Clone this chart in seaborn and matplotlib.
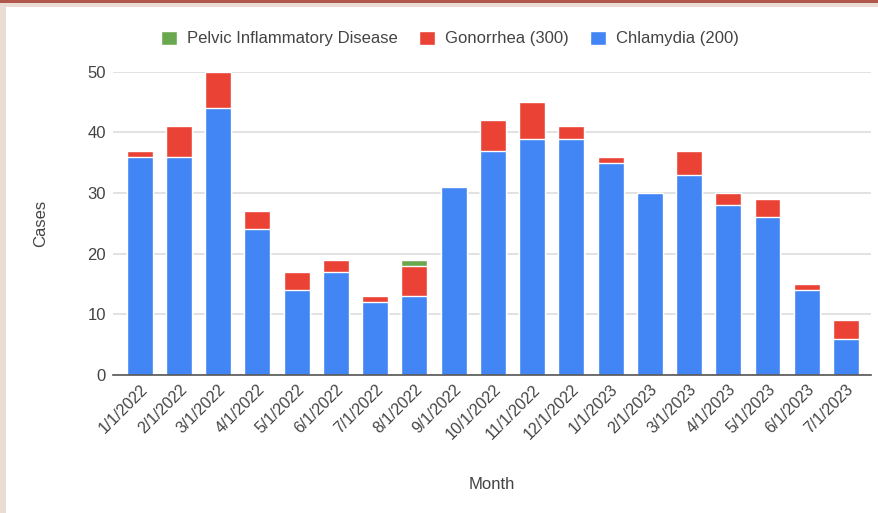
import matplotlib
matplotlib.use('Agg')
import matplotlib.pyplot as plt
from matplotlib.patches import Rectangle, Patch
import seaborn as sns
import numpy as np
import pandas as pd

months = ['1/1/2022', '2/1/2022', '3/1/2022', '4/1/2022', '5/1/2022', '6/1/2022',
          '7/1/2022', '8/1/2022', '9/1/2022', '10/1/2022', '11/1/2022', '12/1/2022',
          '1/1/2023', '2/1/2023', '3/1/2023', '4/1/2023', '5/1/2023', '6/1/2023',
          '7/1/2023']
chlamydia = [36, 36, 44, 24, 14, 17, 12, 13, 31, 37, 39, 39, 35, 30, 33, 28, 26, 14, 6]
gonorrhea = [1, 5, 6, 3, 3, 2, 1, 5, 0, 5, 6, 2, 1, 0, 4, 2, 3, 1, 3]
pid = [0, 0, 0, 0, 0, 0, 0, 1, 0, 0, 0, 0, 0, 0, 0, 0, 0, 0, 0]

blue = '#4285F4'
red = '#EA4335'
green = '#6AA84F'
text_col = '#444444'

df = pd.DataFrame({'Month': months, 'Chlamydia': chlamydia,
                   'Gonorrhea': gonorrhea, 'PID': pid})
df['top_gon'] = df['Chlamydia'] + df['Gonorrhea']
df['top_pid'] = df['top_gon'] + df['PID']

sns.set_style('white')
plt.rcParams['font.family'] = ['Liberation Sans', 'DejaVu Sans']

fig = plt.figure(figsize=(8.79, 5.13), dpi=100)
ax = fig.add_axes([0.1286, 0.269, 0.8624, 0.591])

# stacked bars: draw cumulative totals back to front
sns.barplot(data=df, x='Month', y='top_pid', color=green, saturation=1,
            width=0.66, ax=ax, zorder=3)
sns.barplot(data=df, x='Month', y='top_gon', color=red, saturation=1,
            width=0.66, ax=ax, zorder=3)
sns.barplot(data=df, x='Month', y='Chlamydia', color=blue, saturation=1,
            width=0.66, ax=ax, zorder=3)

ax.set_ylim(0, 50)
ax.set_xlim(-0.68, len(months) - 0.36)
ax.set_yticks([0, 10, 20, 30, 40, 50])
ax.yaxis.grid(True, color='#DDDDDD', linewidth=1.2, zorder=0)
ax.set_axisbelow(True)
for s in ['top', 'right', 'left']:
    ax.spines[s].set_visible(False)
ax.spines['bottom'].set_color('#555555')
ax.spines['bottom'].set_linewidth(1.2)
ax.spines['bottom'].set_zorder(4)

ax.tick_params(axis='y', length=0, labelsize=12, labelcolor=text_col, pad=5)
ax.tick_params(axis='x', length=0, labelsize=11.5, labelcolor=text_col, pad=5)
plt.setp(ax.get_xticklabels(), rotation=45, ha='right', rotation_mode='anchor')

ax.set_xlabel('Month', fontsize=12, color=text_col, labelpad=25)
ax.set_ylabel('Cases', fontsize=12, color=text_col, labelpad=28)

handles = [Patch(facecolor=green, label='Pelvic Inflammatory Disease'),
           Patch(facecolor=red, label='Gonorrhea (300)'),
           Patch(facecolor=blue, label='Chlamydia (200)')]
leg = fig.legend(handles=handles, loc='center', bbox_to_anchor=(0.512, 0.925),
                 ncol=3, frameon=False, fontsize=12, handlelength=0.95,
                 handleheight=0.95, columnspacing=1.3, handletextpad=0.6)
for t in leg.get_texts():
    t.set_color(text_col)

# page border like the screenshot
fig.patches.append(Rectangle((0, 0), 0.007, 1, transform=fig.transFigure,
                             facecolor='#EADCD2', edgecolor='none', zorder=-1))
fig.patches.append(Rectangle((0, 0.986), 1, 0.014, transform=fig.transFigure,
                             facecolor='#EADCD2', edgecolor='none', zorder=-1))
fig.patches.append(Rectangle((0, 0.995), 1, 0.005, transform=fig.transFigure,
                             facecolor='#B0564A', edgecolor='none', zorder=-1))

fig.savefig('out.png', dpi=100)
